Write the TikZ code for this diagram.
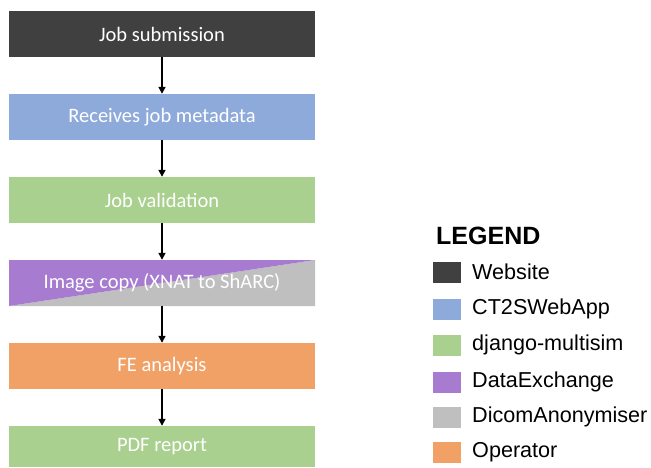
\documentclass[tikz,border=0pt]{standalone}
\usepackage{fontspec}
\setmainfont{Liberation Sans}
\newfontfamily\boxfont{Carlito}
\usetikzlibrary{arrows.meta}
\definecolor{cweb}{RGB}{64,64,64}
\definecolor{cct}{RGB}{142,170,219}
\definecolor{cdj}{RGB}{169,208,142}
\definecolor{cdx}{RGB}{167,124,208}
\definecolor{cdi}{RGB}{191,191,191}
\definecolor{cop}{RGB}{242,161,102}
\tikzset{
  stepbox/.style={minimum width=306pt, minimum height=46pt, inner sep=0pt, text=white,
    font=\boxfont\fontsize{20.5}{22}\selectfont},
  flowarrow/.style={-{Triangle[width=7pt,length=7pt]}, line width=1.6pt, black},
  swatch/.style={minimum width=28pt, minimum height=21pt, inner sep=0pt},
  legtext/.style={anchor=west, inner sep=0pt, font=\fontsize{21.6}{24}\selectfont}
}
\begin{document}
\begin{tikzpicture}[x=1pt,y=-1pt]
\useasboundingbox (0,0) rectangle (651,467);
\node[stepbox, fill=cweb] (b1) at (162,34) {Job submission};
\node[stepbox, fill=cct] (b2) at (162,117) {Receives job metadata};
\node[stepbox, fill=cdj] (b3) at (162,200) {Job validation};
\node[stepbox, path picture={
  \fill[cdi] (path picture bounding box.south west) -- (path picture bounding box.north east) -- (path picture bounding box.south east) -- cycle;
  \fill[cdx] (path picture bounding box.south west) -- (path picture bounding box.north west) -- (path picture bounding box.north east) -- cycle;
}] (b4) at (162,283) {Image copy (XNAT to ShARC)};
\node[stepbox, fill=cop] (b5) at (162,366) {FE analysis};
\node[stepbox, fill=cdj, minimum height=41pt] (b6) at (162,446.5) {PDF report};
\draw[flowarrow] (b1) -- (b2);
\draw[flowarrow] (b2) -- (b3);
\draw[flowarrow] (b3) -- (b4);
\draw[flowarrow] (b4) -- (b5);
\draw[flowarrow] (b5) -- (b6);
\node[anchor=west, inner sep=0pt, font=\bfseries\fontsize{25}{27}\selectfont] (lg) at (436,236) {LEGEND};
\node[swatch, fill=cweb] (s1) at (447,272) {};
\node[legtext] (t1) at (472,272) {Website};
\node[swatch, fill=cct] (s2) at (447,309) {};
\node[legtext] (t2) at (472,309) {CT2SWebApp};
\node[swatch, fill=cdj] (s3) at (447,345) {};
\node[legtext] (t3) at (472,345) {django-multisim};
\node[swatch, fill=cdx] (s4) at (447,382) {};
\node[legtext] (t4) at (472,382) {DataExchange};
\node[swatch, fill=cdi] (s5) at (447,417) {};
\node[legtext] (t5) at (472,417) {DicomAnonymiser};
\node[swatch, fill=cop] (s6) at (447,452) {};
\node[legtext] (t6) at (472,452) {Operator};
\end{tikzpicture}
\end{document}
